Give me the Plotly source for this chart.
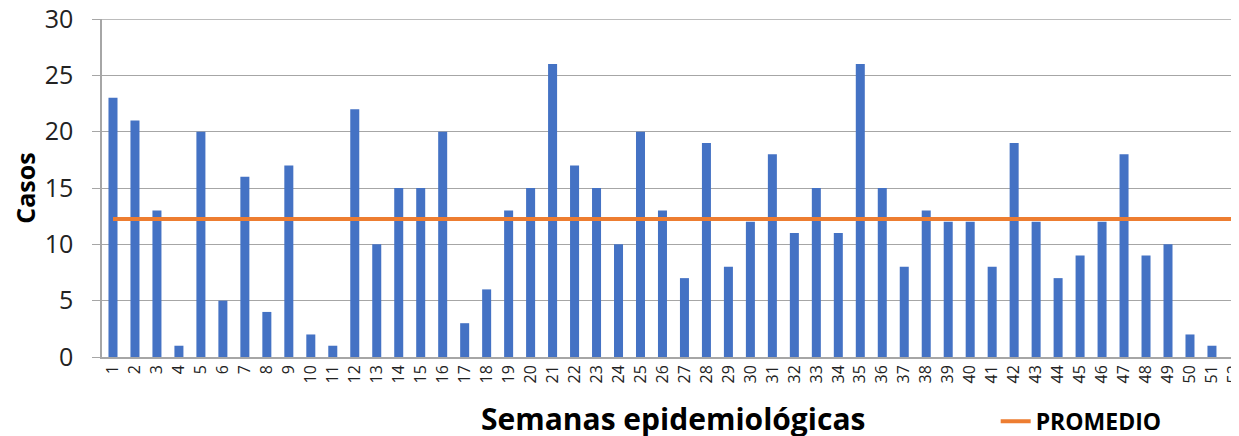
import plotly.graph_objects as go

semanas = list(range(1, 53))
etiquetas = [str(s) for s in semanas]
casos = [23, 21, 13, 1, 20, 5, 16, 4, 17, 2, 1, 22, 10, 15, 15, 20, 3, 6, 13, 15,
         26, 17, 15, 10, 20, 13, 7, 19, 8, 12, 18, 11, 15, 11, 26, 15, 8, 13, 12, 12,
         8, 19, 12, 7, 9, 12, 18, 9, 10, 2, 1, 0]
promedio_valor = 12.25
promedio = [promedio_valor] * len(semanas)
y_ticks = [0, 5, 10, 15, 20, 25, 30]

FONT = "Open Sans"
GRID = "#A6A6A6"

fig = go.Figure()
fig.add_trace(go.Bar(
    x=semanas, y=casos, name="Casos", showlegend=False,
    marker=dict(color="#4472C4", line=dict(width=0)), width=0.41,
))
fig.add_trace(go.Scatter(
    x=semanas, y=promedio, name="<b>PROMEDIO</b>", mode="lines",
    line=dict(color="#ED7D31", width=4),
))

fig.update_layout(
    width=1231, height=428,
    margin=dict(l=94, r=0, t=11, b=79, autoexpand=False),
    plot_bgcolor="white", paper_bgcolor="white",
    font=dict(family=FONT, color="black"),
    bargap=0.59,
    legend=dict(orientation="h", x=0.786, y=-0.19, xanchor="left", yanchor="middle",
                font=dict(size=23, family=FONT, color="black"), bgcolor="rgba(0,0,0,0)"),
    annotations=[dict(text="<b>Semanas epidemiológicas</b>", xref="paper", yref="paper",
                      x=0.502, y=-0.182, xanchor="center", yanchor="middle", showarrow=False,
                      font=dict(size=30, family=FONT, color="black"))],
    shapes=[dict(type="line", xref="paper", yref="y", x0=-0.007, x1=1, y0=y_ticks[-1], y1=y_ticks[-1],
                 line=dict(color=GRID, width=1.5), layer="below")],
)
fig.update_xaxes(
    range=[0.5, 52.23], tickmode="array", tickvals=semanas, ticktext=etiquetas,
    tickangle=-90, tickfont=dict(size=16, family=FONT, color="#222"),
    showline=True, linecolor=GRID, linewidth=1.5, showgrid=False,
    ticks="", ticklen=0, automargin=False, ticklabeloverflow="allow",
)
fig.update_yaxes(
    range=[0, 30], tickmode="array", tickvals=y_ticks,
    tickfont=dict(size=25, family=FONT, color="#222"),
    showgrid=True, gridcolor=GRID, gridwidth=1.2,
    showline=True, linecolor=GRID, linewidth=1.5,
    ticks="outside", ticklen=8, tickcolor=GRID,
    ticklabelstandoff=14, ticklabeloverflow="allow",
    zeroline=False, automargin=False,
    title=dict(text="<b>Casos</b>", font=dict(size=25, family=FONT, color="black"), standoff=25),
)

fig.write_html("out.html")
